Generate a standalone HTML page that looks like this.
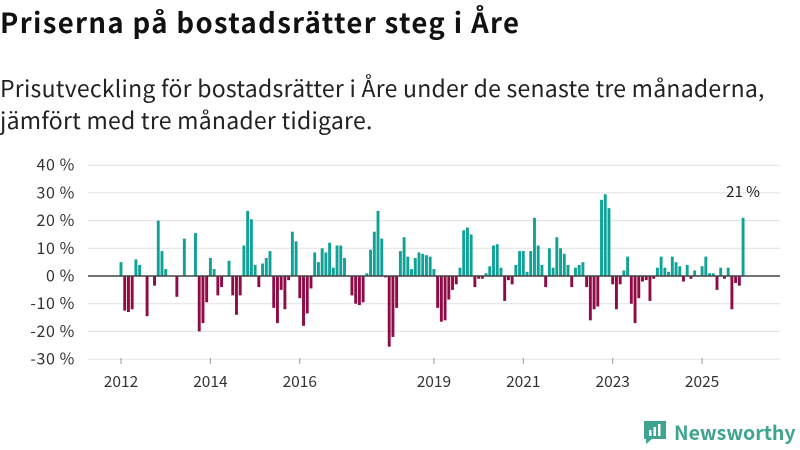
<!DOCTYPE html>
<html><head><meta charset="utf-8"><style>
body{margin:0;width:800px;height:450px;background:#fff;font-family:"Noto Sans CJK SC","Liberation Sans",sans-serif;overflow:hidden;position:relative}
h1{position:absolute;left:0;top:3px;margin:0;font-size:27.5px;line-height:36px;font-weight:bold;color:#111;letter-spacing:1.35px}
.sub{position:absolute;left:0;top:71px;margin:0;font-size:23px;line-height:32px;color:#222;letter-spacing:0.25px}
svg{position:absolute;left:0;top:0}
</style></head><body>
<h1>Priserna på bostadsrätter steg i Åre</h1>
<p class="sub">Prisutveckling för bostadsrätter i Åre under de senaste tre månaderna,<br>jämfört med tre månader tidigare.</p>
<svg id="c" width="800" height="450"></svg>
<script>
const yTicks=[40,30,20,10,0,-10,-20,-30];
const yearLabels=["2012","2014","2016","2019","2021","2023","2025"];
const yearMonths=[0,24,48,84,108,132,156];
const values=[5,-12.5,-13,-12,6,4,0,-14.5,0,-3.5,20,9,2.5,0,0,-7.5,0,13.5,0,0,
15.5,-20,-17,-9.5,6.5,2.5,-7,-4,0,5.5,-7,-14,-7,11,23.5,20.5,4,-4,4.5,6.5,
9,-11.5,-17,-5,-12,-1.5,16,12.5,-8,-18,-13.5,-4.5,8.5,5,10,8.5,12,3,11,11,
6.5,0,-7,-10,-10.5,-9.5,1,9.5,16,23.5,13.5,-0.5,-25.5,-22,-11.5,9,14,7,2.5,6.5,
8.5,8,7.5,7,2.5,-11.5,-16.5,-16,-8.5,-5,-3,3,16.5,17.5,15,-4,-1,-1,1,3.5,
11,11.5,3,-9,-1.5,-3,4,9,9,1.5,9,21,11,4,-4,10,3,14,10,8,
4,-4,3,4,5,-4,-16,-12,-11,27.5,29.5,24.5,-3,-12,-3,2,7,-10,-17,-8,
-2,-1.5,-9,-1,3,7,3,1.5,7,5,3.5,-2,4,-1,2,0.3,3.5,7,1,1,
-5,3,-1,3,-12,-2.5,-3.5,21];
const svg=document.getElementById('c');
const NS='http://www.w3.org/2000/svg';
const FF='Noto Sans CJK SC, Liberation Sans, sans-serif';
const x=m=>121+m*3.725;
const y=v=>276-v*2.77;
function mk(t,a){const e=document.createElementNS(NS,t);for(const k in a)e.setAttribute(k,a[k]);svg.appendChild(e);return e;}
yTicks.forEach(v=>{
  if(v!==0){const g=mk('line',{x1:88,x2:780,y1:y(v),y2:y(v),stroke:'#e0e0e0','stroke-width':1});
  
  }
  const t=mk('text',{x:75,y:y(v)+5.5,'text-anchor':'end','font-size':16,'letter-spacing':0.6,fill:'#333','font-family':FF});
  t.textContent=v+' %';
  
  
});
yearMonths.forEach((m,i)=>{
  const l=mk('line',{x1:x(m),x2:x(m),y1:358,y2:364,stroke:'#999','stroke-width':1});
  
  
  const t=mk('text',{x:x(m),y:387,'text-anchor':'middle','font-size':15.5,fill:'#333','font-family':FF});
  t.textContent=yearLabels[i];
  
  
});
values.forEach((v,i)=>{
  if(v===0)return;
  const top=Math.min(y(v),y(0)),h=Math.abs(y(v)-y(0));
  const r=mk('rect',{x:x(i)-1.45,y:top,width:2.9,height:h,fill:v>0?'#10a197':'#8f0b45'});
  
  
});
const z=mk('line',{x1:88,x2:780,y1:y(0),y2:y(0),stroke:'#444','stroke-width':1.5});


const last=values.length-1;
const lab=mk('text',{x:x(last),y:y(values[last])-21,'text-anchor':'middle','font-size':15,fill:'#222','font-family':FF});
lab.textContent=Math.round(values[last])+' %';


</script>
<div style="position:absolute;left:642px;top:418px;height:28px;display:flex;align-items:center">
<svg width="26" height="26" style="position:static"><path d="M2 2h22v18h-14l-6 5v-5h-2z" fill="#3ea48f"/><rect x="7" y="11" width="2.5" height="6" fill="#fff"/><rect x="11.5" y="8" width="2.5" height="9" fill="#fff"/><rect x="16" y="5" width="2.5" height="12" fill="#fff"/></svg>
<span style="margin-left:6px;font-size:19.5px;line-height:28px;font-weight:bold;color:#3ea48f">Newsworthy</span>
</div>
</body></html>
